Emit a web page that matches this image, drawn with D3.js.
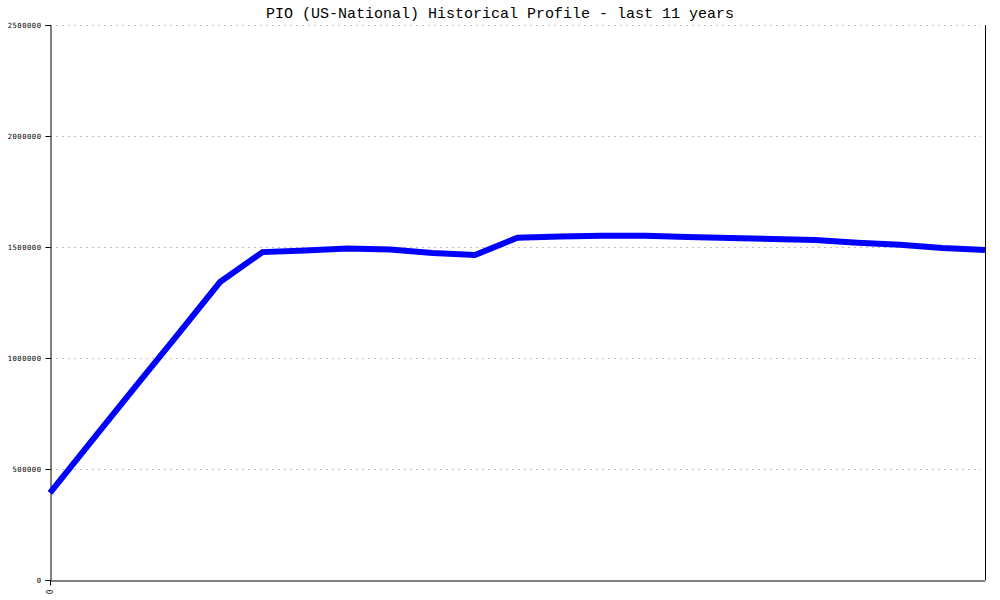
<!DOCTYPE html>
<html>
<head>
<meta charset="utf-8">
<script src="https://cdn.jsdelivr.net/npm/d3@7"></script>
<style>
  html, body { margin: 0; padding: 0; background: #fff; }
  svg { display: block; }
  .tick text { font-family: "DejaVu Sans Mono", monospace; }
</style>
</head>
<body>
<script>
// Half-year sample index (0..22) over the last 11 years
const periods = d3.range(23);
const values = [392000, 631000, 869000, 1104000, 1342000, 1477000, 1484000, 1493000,
                1489000, 1473000, 1464000, 1542000, 1547000, 1551000, 1551000, 1545000,
                1540000, 1536000, 1532000, 1519000, 1510000, 1496000, 1487000];
const yTicks = [0, 500000, 1000000, 1500000, 2000000, 2500000];
const xTickLabels = ["0"];
const title = "PIO (US-National) Historical Profile - last 11 years";

const W = 1000, H = 600;
const margin = {left: 50, right: 15, top: 25, bottom: 20};

const svg = d3.select("body").append("svg").attr("width", W).attr("height", H);

const x = d3.scaleLinear().domain([0, periods.length - 1]).range([margin.left, W - margin.right]);
const y = d3.scaleLinear().domain([0, 2500000]).range([H - margin.bottom, margin.top]);

// gridlines
svg.append("g").selectAll("line").data(yTicks.filter(d => d > 0)).join("line")
  .attr("x1", margin.left).attr("x2", W - margin.right - 4)
  .attr("y1", d => y(d) + 0.5).attr("y2", d => y(d) + 0.5)
  .attr("stroke", "#c0c0c0").attr("stroke-width", 1)
  .attr("stroke-dasharray", "2,4");

// right border
svg.append("line")
  .attr("x1", W - margin.right + 0.5).attr("x2", W - margin.right + 0.5)
  .attr("y1", margin.top).attr("y2", H - margin.bottom)
  .attr("stroke", "#000");

// y axis
const yAxis = d3.axisLeft(y).tickValues(yTicks).tickSize(5).tickPadding(4).tickFormat(d3.format("d"));
const gy = svg.append("g").attr("transform", `translate(${margin.left + 0.5},0)`).call(yAxis);
gy.select(".domain").attr("stroke", "#000");
gy.selectAll(".tick text").attr("font-size", 7.2).attr("letter-spacing", 0.5).attr("fill", "#000");

// x axis
const xAxis = d3.axisBottom(x).tickValues([0]).tickSize(5).tickSizeOuter(0).tickFormat((d, i) => xTickLabels[i]);
const gx = svg.append("g").attr("transform", `translate(0,${H - margin.bottom + 0.5})`).call(xAxis);
gx.select(".domain").attr("stroke", "#000");
gx.selectAll(".tick text")
  .attr("font-size", 8).attr("fill", "#000")
  .attr("transform", "rotate(-90)")
  .attr("text-anchor", "end").attr("dy", "0.32em").attr("x", -9).attr("y", 0);

// data line
const line = d3.line().x((d, i) => x(periods[i])).y(d => y(d));
svg.append("path").datum(values)
  .attr("d", line)
  .attr("fill", "none")
  .attr("stroke", "#0000ff")
  .attr("stroke-width", 6)
  .attr("stroke-linejoin", "miter");

// title
svg.append("text")
  .attr("x", 500).attr("y", 18)
  .attr("text-anchor", "middle")
  .attr("font-family", "Liberation Mono, monospace")
  .attr("font-size", 15)
  .attr("fill", "#000")
  .text(title);
</script>
</body>
</html>
